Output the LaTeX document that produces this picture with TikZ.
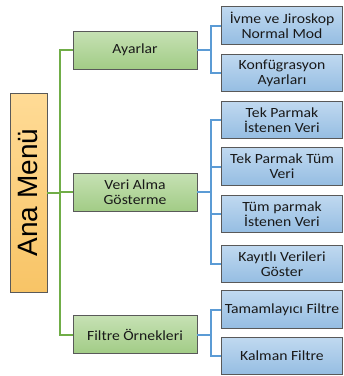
\documentclass[tikz,border=0pt]{standalone}
\usepackage{fontspec}
\setmainfont{Carlito}[FakeStretch=1.12]
\newfontfamily\titlefont{Liberation Sans}
\begin{document}
\begin{tikzpicture}[x=1pt,y=-1pt,
  font=\fontsize{14}{15.2}\selectfont,
  box/.style={draw=black!65, line width=0.6pt, inner sep=0pt, align=center, text=black!90},
  rootbox/.style={box, top color=roottop, bottom color=rootbot,
    minimum width=37pt, minimum height=199pt},
  catbox/.style={box, top color=cattop, bottom color=catbot,
    minimum width=124pt, minimum height=38pt},
  leafbox/.style={box, top color=leaftop, bottom color=leafbot,
    minimum width=121pt, minimum height=37.5pt},
  greenline/.style={draw=linegreen, line width=2pt},
  blueline/.style={draw=lineblue, line width=2pt}
]
\definecolor{linegreen}{HTML}{70AD47}
\definecolor{lineblue}{HTML}{5B9BD5}
\definecolor{leaftop}{HTML}{C0D9F0}
\definecolor{leafbot}{HTML}{95BDE2}
\definecolor{cattop}{HTML}{C6E1B4}
\definecolor{catbot}{HTML}{A2CC86}
\definecolor{roottop}{HTML}{FFDB96}
\definecolor{rootbot}{HTML}{F8C466}
\useasboundingbox (0,0) rectangle (344,376);

% bus lines
\coordinate (gbus) at (60,0);
\coordinate (bbus) at (211,0);

% root
\node[rootbox] (ana) at (28.5,192.5) {};
\node[rotate=90, font=\titlefont\fontsize{28}{30}\selectfont, text=black] (anatext) at (ana.center) {Ana Menü};

% categories
\node[catbox] (ayar)   at (135,50)    {Ayarlar};
\node[catbox] (veri)   at (135,192)   {Veri Alma\\Gösterme};
\node[catbox] (filtre) at (135,334.5) {Filtre Örnekleri};

% leaves
\node[leafbox] (b1) at (282,25.5)  {İvme ve Jiroskop\\Normal Mod};
\node[leafbox] (b2) at (282,73)    {Konfügrasyon\\Ayarları};
\node[leafbox] (b3) at (282,120)   {Tek Parmak\\İstenen Veri};
\node[leafbox] (b4) at (282,166.5) {Tek Parmak Tüm\\Veri};
\node[leafbox] (b5) at (282,214)   {Tüm parmak\\İstenen Veri};
\node[leafbox] (b6) at (282,264)   {Kayıtlı Verileri\\Göster};
\node[leafbox] (b7) at (282,309.5) {Tamamlayıcı Filtre};
\node[leafbox] (b8) at (282,356)   {Kalman Filtre};

% root to categories
\draw[greenline] (ana.east) -- (ana.east -| gbus);
\draw[greenline] (ayar.west) -- (ayar.west -| gbus) |- (filtre.west);
\draw[greenline] (veri.west) -- (veri.west -| gbus);

% categories to leaves
\draw[blueline] (ayar.east) -- (ayar.east -| bbus);
\draw[blueline] (b1.west) -- (b1.west -| bbus) |- (b2.west);
\draw[blueline] (veri.east) -- (veri.east -| bbus);
\draw[blueline] (b3.west) -- (b3.west -| bbus) |- (b6.west);
\draw[blueline] (b4.west) -- (b4.west -| bbus);
\draw[blueline] (b5.west) -- (b5.west -| bbus);
\draw[blueline] (filtre.east) -- (filtre.east -| bbus);
\draw[blueline] (b7.west) -- (b7.west -| bbus) |- (b8.west);
\end{tikzpicture}
\end{document}
